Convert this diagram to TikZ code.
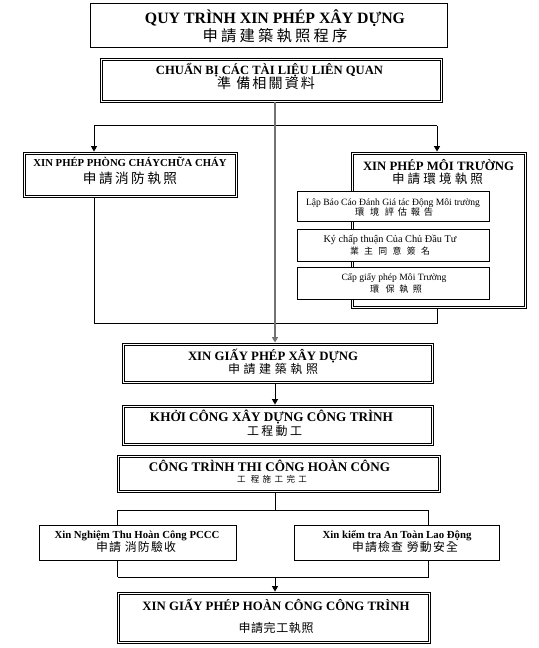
\documentclass[tikz,border=0pt]{standalone}
\usepackage{fontspec}
\setmainfont{Liberation Serif}
\newfontfamily\cjkfont{Noto Sans CJK TC}
\usetikzlibrary{arrows.meta,calc}
\newdimen\pxu \pxu=0.75pt
\newcommand\vnb[2]{\resizebox{#1\pxu}{!}{\bfseries #2}}
\newcommand\vnr[2]{\resizebox{#1\pxu}{!}{#2}}
\newcommand\cjt[3]{\resizebox{#1\pxu}{!}{\cjkfont\addfontfeature{LetterSpace=#2}#3}}
\begin{document}
\begin{tikzpicture}[x=0.75pt,y=-0.75pt,
  wh/.style 2 args={minimum width={#1*0.75pt},minimum height={#2*0.75pt}},
  sbox/.style={draw,line width=0.75pt,fill=white,inner sep=0pt},
  dbox/.style={draw,line width=0.65pt,fill=white,inner sep=0pt},
  inner/.style={draw,line width=0.45pt},
  txt/.style={anchor=base,inner sep=0pt},
  conn/.style={line width=0.75pt},
  spine/.style={draw=black!55,line width=1.2pt},
  tip/.style={-{Triangle[length=4pt,width=4.4pt]}}]
\useasboundingbox (0,0) rectangle (538,648);
% boxes
\node[sbox,wh={357}{44}] (title) at (268.5,26) {};
\node[dbox,wh={342}{44}] (prep) at (271,80) {};
\node[dbox,wh={214}{45}] (fire) at (130,174.5) {};
\node[dbox,wh={175}{156}] (env) at (438.5,230) {};
\node[dbox,wh={311}{40}] (permit) at (277.5,363) {};
\node[dbox,wh={311}{40}] (start) at (277.5,425) {};
\node[dbox,wh={323}{37}] (done) at (278.5,473.5) {};
\node[dbox,wh={313}{51}] (final) at (274,617.5) {};
\foreach \n in {prep,fire,env,permit,start,done,final}
  \draw[inner] ($(\n.north west)+(2.3,2.3)$) rectangle ($(\n.south east)+(-2.3,-2.3)$);
\node[sbox,wh={192}{30}] (sa) at (393,207) {};
\node[sbox,wh={192}{31.5}] (sb) at (393,245.5) {};
\node[sbox,wh={192}{32}] (sc) at (393,283) {};
\node[sbox,wh={197}{35}] (bleft) at (138,542.5) {};
\node[sbox,wh={205}{35}] (bright) at (396.5,542.5) {};
% texts
\node[txt] (titleA) at (275,23.5) {\vnb{260}{QUY TRÌNH XIN PHÉP XÂY DỰNG}};
\node[txt] (titleB) at (275,42) {\cjt{145}{21}{申請建築執照程序}};
\node[txt] (prepA) at (269.5,74.5) {\vnb{227}{CHUẨN BỊ CÁC TÀI LIỆU LIÊN QUAN}};
\node[txt] (prepB) at (266,88.5) {\cjt{98}{15}{準 備相關資料}};
\node[txt] (fireA) at (130,167) {\vnb{193}{XIN PHÉP PHÒNG CHÁYCHỮA CHÁY}};
\node[txt] (fireB) at (130,184) {\cjt{94}{18}{申請消防執照}};
\node[txt] (envA) at (438.5,170.5) {\vnb{151}{XIN PHÉP MÔI TRƯỜNG}};
\node[txt] (envB) at (437.5,184) {\cjt{91}{25}{申請環境執照}};
\node[txt] (saA) at (393,205) {\vnr{174}{Lập Báo Cáo Đánh Giá tác Động Môi trường}};
\node[txt] (saB) at (394,216) {\cjt{78}{40}{環 境 評估報告}};
\node[txt] (sbA) at (390,243) {\vnr{133}{Ký chấp thuận Của Chủ Đầu Tư}};
\node[txt] (sbB) at (390,254) {\cjt{80}{60}{業主同意簽名}};
\node[txt] (scA) at (394,280) {\vnr{105}{Cấp giấy phép Môi Trường}};
\node[txt] (scB) at (396,292) {\cjt{52}{50}{環 保執照}};
\node[txt] (permitA) at (273,360) {\vnb{170}{XIN GIẤY PHÉP XÂY DỰNG}};
\node[txt] (permitB) at (273,373.5) {\cjt{90}{30}{申請建築執照}};
\node[txt] (startA) at (271.5,421) {\vnb{243}{KHỞI CÔNG XÂY DỰNG CÔNG TRÌNH}};
\node[txt] (startB) at (274.5,435.5) {\cjt{55}{20}{工程動工}};
\node[txt] (doneA) at (269.5,471) {\vnb{241}{CÔNG TRÌNH THI CÔNG HOÀN CÔNG}};
\node[txt] (doneB) at (272,482.5) {\cjt{70}{40}{工 程施工完工}};
\node[txt] (bleftA) at (137,538) {\vnb{165}{Xin Nghiệm Thu Hoàn Công PCCC}};
\node[txt] (bleftB) at (136,551) {\cjt{80}{10}{申請 消防驗收}};
\node[txt] (brightA) at (397,538) {\vnb{149}{Xin kiểm tra An Toàn Lao Động}};
\node[txt] (brightB) at (405,551) {\cjt{106}{10}{申請檢查 勞動安全}};
\node[txt] (finalA) at (276,610) {\vnb{267}{XIN GIẤY PHÉP HOÀN CÔNG CÔNG TRÌNH}};
\node[txt] (finalB) at (276,632) {\cjt{75}{5}{申請完工執照}};
% connector coordinates
\coordinate (sp) at (275,126);
\coordinate (fx) at (94,126);
\coordinate (ex) at (437,126);
\coordinate (jn) at (275,323);
\coordinate (hb) at (275,510);
\coordinate (hl) at (117.7,510);
\coordinate (hr) at (428.8,510);
\coordinate (lb) at (275,577);
\coordinate (ll) at (117.7,577);
\coordinate (lr) at (428.8,577);
% connectors
\draw[conn] (fx) -- (ex);
\draw[conn,tip] (fx) -- (fx |- fire.north);
\draw[conn,tip] (ex) -- (ex |- env.north);
\draw[conn] (fire.south -| fx) |- (jn);
\draw[conn] (env.south -| ex) |- (jn);
\draw[spine,tip] (prep.south -| sp) -- (permit.north -| sp);
\draw[conn,tip] (permit.south -| sp) -- (start.north -| sp);
\draw[conn] (done.south -| hb) -- (hb);
\draw[conn] (hl) -- (hr);
\draw[conn] (hl) -- (hl |- bleft.north);
\draw[conn] (hr) -- (hr |- bright.north);
\draw[conn] (hl |- bleft.south) -- (ll);
\draw[conn] (hr |- bright.south) -- (lr);
\draw[conn] (ll) -- (lr);
\draw[conn,tip] (lb) -- (lb |- final.north);
\end{tikzpicture}
\end{document}
